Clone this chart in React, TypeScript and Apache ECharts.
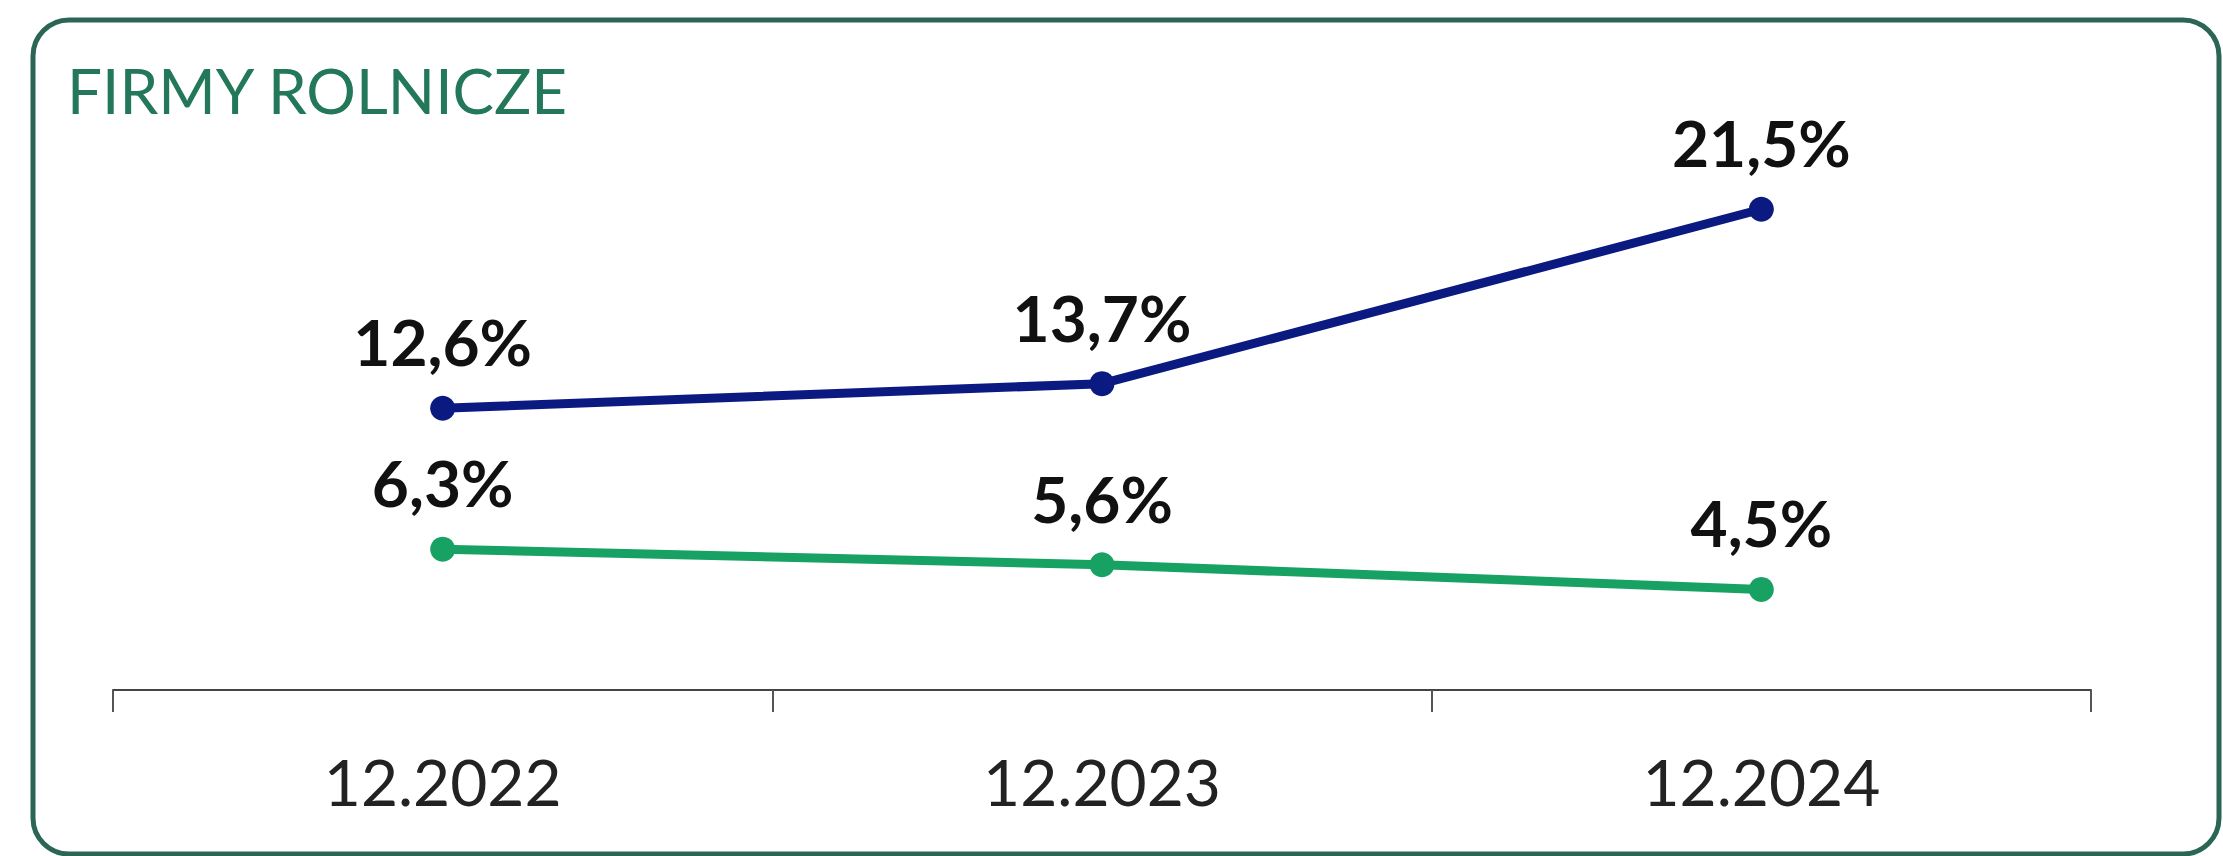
import React, { useEffect, useRef } from "react";
import * as echarts from "echarts";

const categories = ["12.2022", "12.2023", "12.2024"];
const navySeries = [12.6, 13.7, 21.5];
const greenSeries = [6.3, 5.6, 4.5];
const titleText = "FIRMY ROLNICZE";

const FONT = "Lato, 'Open Sans', sans-serif";

export default function App() {
  const ref = useRef<HTMLDivElement>(null);

  useEffect(() => {
    if (!ref.current) return;
    const chart = echarts.init(ref.current, undefined, { renderer: "svg" });
    const fmt = (p: any) => String(p.value).replace(".", ",") + "%";
    const labelCfg = {
      show: true,
      position: "top",
      distance: 22,
      formatter: fmt,
      fontFamily: FONT,
      fontWeight: "bold",
      fontSize: 64,
      color: "#111111",
    };
    chart.setOption({
      animation: false,
      backgroundColor: "#ffffff",
      graphic: [
        {
          type: "rect",
          shape: { x: 33, y: 20, width: 2186, height: 834, r: 36 },
          style: { fill: "none", stroke: "#2a6555", lineWidth: 5 },
          silent: true,
        },
        {
          type: "text",
          x: 67,
          y: 90,
          style: {
            text: titleText,
            fontFamily: FONT,
            fontSize: 62,
            fill: "#23785a",
            verticalAlign: "middle",
            align: "left",
          },
          silent: true,
        },
      ],
      grid: { left: 113, right: 132, top: 131, bottom: 166 },
      xAxis: {
        type: "category",
        data: categories,
        boundaryGap: true,
        axisLine: { show: true, lineStyle: { color: "#444444", width: 2 } },
        axisTick: { show: true, length: 22, lineStyle: { color: "#555555", width: 2 } },
        axisLabel: {
          margin: 59,
          fontFamily: FONT,
          fontSize: 64,
          color: "#222222",
        },
        splitLine: { show: false },
      },
      yAxis: {
        type: "value",
        min: 0,
        max: 25,
        show: false,
        splitLine: { show: false },
      },
      series: [
        {
          type: "line",
          data: navySeries,
          symbol: "circle",
          symbolSize: 25,
          lineStyle: { color: "#0b1a80", width: 9 },
          itemStyle: { color: "#0b1a80" },
          label: labelCfg,
        },
        {
          type: "line",
          data: greenSeries,
          symbol: "circle",
          symbolSize: 25,
          lineStyle: { color: "#17a263", width: 9 },
          itemStyle: { color: "#17a263" },
          label: labelCfg,
        },
      ],
    });
    return () => chart.dispose();
  }, []);

  return (
    <div
      ref={ref}
      style={{ position: "absolute", left: 0, top: 0, width: 2223, height: 856, background: "#fff" }}
    />
  );
}
